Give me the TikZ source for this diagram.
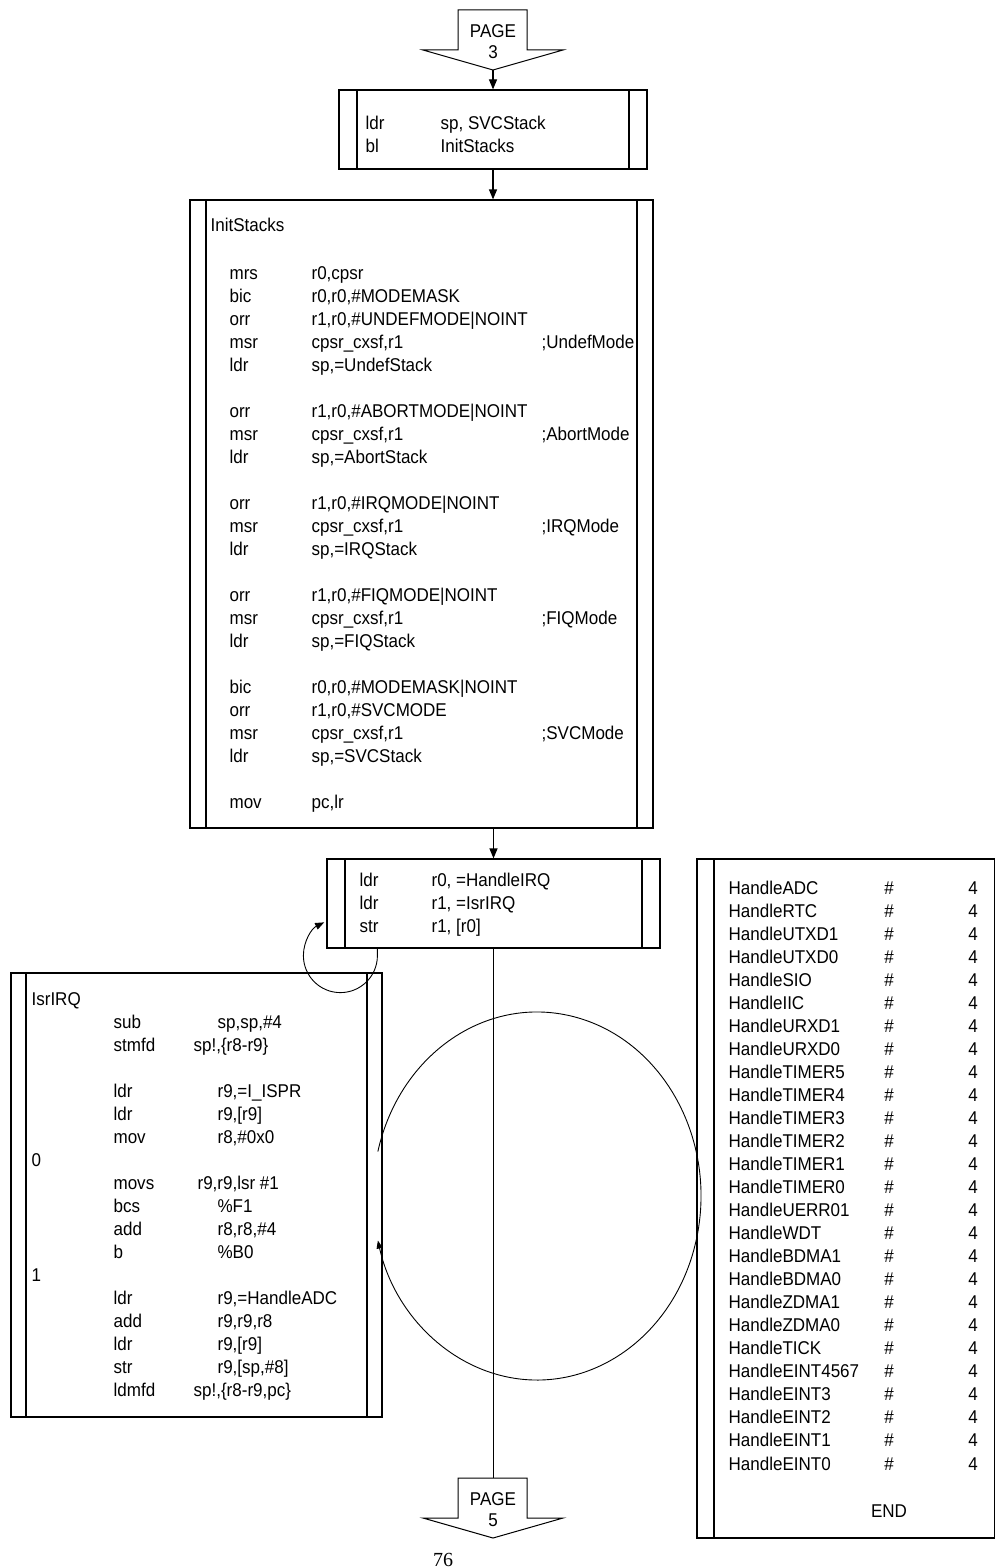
\documentclass[tikz,border=0pt]{standalone}
\usepackage{fontspec}
\setmainfont{Liberation Sans}[FakeStretch=0.92]
\newfontfamily\pagenofont{Liberation Serif}
\usetikzlibrary{arrows.meta,calc}

\newcommand{\codefont}{\fontsize{18.5}{21}\selectfont}

\tikzset{
  procbox/.style={draw, rectangle, line width=1.2pt, inner sep=0pt,
    path picture={
      \draw[line width=1.2pt] ([xshift=#1]path picture bounding box.north west) -- ([xshift=#1]path picture bounding box.south west);
      \draw[line width=1.2pt] ([xshift=-#1]path picture bounding box.north east) -- ([xshift=-#1]path picture bounding box.south east);
    }},
  procbox/.default=17pt,
  code/.style={anchor=base west, inner sep=0pt, font=\codefont},
  num/.style={anchor=base, inner sep=0pt, font=\codefont},
  pagetag/.style={align=center, inner sep=0pt, font=\codefont},
}

\begin{document}
\begin{tikzpicture}[x=1pt, y=1pt, >={Triangle[length=10pt,width=8pt]}, line width=1.2pt]
  \path[use as bounding box, fill=white] (0,0) rectangle (994,-1568);

  % off-page connector, top
  \node (page3) [pagetag] at (493,-42) {PAGE\\3};
  \draw[line width=1pt] (458,-10) -- (527,-10) -- (527,-50) -- (563,-50) -- (493,-70) -- (423,-50) -- (458,-50) -- cycle;
  \coordinate (p3tip) at (493,-70);

  % off-page connector, bottom
  \node (page5) [pagetag] at (493,-1510) {PAGE\\5};
  \draw[line width=1pt] (458,-1478) -- (527,-1478) -- (527,-1518) -- (563,-1518) -- (493,-1538) -- (423,-1518) -- (458,-1518) -- cycle;
  \coordinate (p5top) at (493,-1478);

  % boxes
  \node (setsp) [procbox=18pt, minimum width=308pt, minimum height=79pt] at (493,-129.5) {};
  \node (initstk) [procbox=16pt, minimum width=463pt, minimum height=628pt] at (421.5,-514) {};
  \node (irqvec) [procbox=18pt, minimum width=333pt, minimum height=89pt] at (493.5,-903.5) {};
  \node (isrirq) [procbox=15pt, minimum width=371pt, minimum height=444pt] at (196.5,-1195) {};
  \node (handlers) [procbox=17pt, minimum width=315pt, minimum height=679pt] at (854.5,-1198.5) {};

  % ldr sp / bl
  \foreach \r/\m/\o in {0/ldr/{sp, SVCStack}, 1/bl/InitStacks}
  {
    \node (set-m\r) [code] at (365,{-129-23*\r}) {\m};
    \node (set-o\r) [code] at (440,{-129-23*\r}) {\o};
  }

  % InitStacks
  \node (ini-title) [code] at (210,-231) {InitStacks};
  \foreach \r/\m/\o in {0/mrs/{r0,cpsr}, 1/bic/{r0,r0,\#MODEMASK}, 2/orr/{r1,r0,\#UNDEFMODE|NOINT},
      3/msr/{cpsr\_cxsf,r1}, 4/ldr/{sp,=UndefStack},
      6/orr/{r1,r0,\#ABORTMODE|NOINT}, 7/msr/{cpsr\_cxsf,r1}, 8/ldr/{sp,=AbortStack},
      10/orr/{r1,r0,\#IRQMODE|NOINT}, 11/msr/{cpsr\_cxsf,r1}, 12/ldr/{sp,=IRQStack},
      14/orr/{r1,r0,\#FIQMODE|NOINT}, 15/msr/{cpsr\_cxsf,r1}, 16/ldr/{sp,=FIQStack},
      18/bic/{r0,r0,\#MODEMASK|NOINT}, 19/orr/{r1,r0,\#SVCMODE}, 20/msr/{cpsr\_cxsf,r1}, 21/ldr/{sp,=SVCStack},
      23/mov/{pc,lr}}
  {
    \node (ini-m\r) [code] at (229,{-279-23*\r}) {\m};
    \node (ini-o\r) [code] at (311,{-279-23*\r}) {\o};
  }
  \foreach \r/\c in {3/UndefMode, 7/AbortMode, 11/IRQMode, 15/FIQMode, 20/SVCMode}
    \node (ini-c\r) [code] at (541,{-279-23*\r}) {;\c};

  % HandleIRQ vector
  \foreach \r/\m/\o in {0/ldr/{r0, =HandleIRQ}, 1/ldr/{r1, =IsrIRQ}, 2/str/{r1, [r0]}}
  {
    \node (irq-m\r) [code] at (359,{-886-23*\r}) {\m};
    \node (irq-o\r) [code] at (431,{-886-23*\r}) {\o};
  }

  % IsrIRQ
  \node (isr-title) [code] at (31,-1005) {IsrIRQ};
  \node (isr-l0) [code] at (31,-1166) {0};
  \node (isr-l1) [code] at (31,-1281) {1};
  \foreach \r/\m/\x/\o in {1/sub/217/{sp,sp,\#4}, 2/stmfd/193/{sp!,\{r8-r9\}},
      4/ldr/217/{r9,=I\_ISPR}, 5/ldr/217/{r9,[r9]}, 6/mov/217/{r8,\#0x0},
      8/movs/197/{r9,r9,lsr \#1}, 9/bcs/217/{\%F1}, 10/add/217/{r8,r8,\#4}, 11/b/217/{\%B0},
      13/ldr/217/{r9,=HandleADC}, 14/add/217/{r9,r9,r8}, 15/ldr/217/{r9,[r9]},
      16/str/217/{r9,[sp,\#8]}, 17/ldmfd/193/{sp!,\{r8-r9,pc\}}}
  {
    \node (isr-m\r) [code] at (113,{-1005-23*\r}) {\m};
    \node (isr-o\r) [code] at (\x,{-1005-23*\r}) {\o};
  }

  % handler table
  \foreach \n [count=\i from 0] in {ADC,RTC,UTXD1,UTXD0,SIO,IIC,URXD1,URXD0,TIMER5,TIMER4,TIMER3,TIMER2,TIMER1,
      TIMER0,UERR01,WDT,BDMA1,BDMA0,ZDMA1,ZDMA0,TICK,EINT4567,EINT3,EINT2,EINT1,EINT0}
  {
    \node (hnd-\i) [code] at (728,{-894-23.04*\i}) {Handle\n};
    \node (hsh-\i) [num] at (889,{-894-23.04*\i}) {\#};
    \node (hsz-\i) [num] at (973,{-894-23.04*\i}) {4};
  }
  \node (hend) [num] at (889,-1517) {END};

  % flow
  \draw[->] (p3tip) -- (setsp.north);
  \draw[->] (setsp.south) -- (setsp.south |- initstk.north);
  \draw[->] (initstk.south -| irqvec.north) -- (irqvec.north);
  \draw (irqvec.south) -- (irqvec.south |- p5top);

  % loops
  \draw[line width=0.9pt, -{Triangle[length=9pt,width=7pt]}] ([xshift=51pt]irqvec.south west) -- ++(0,-7)
    arc[start angle=0, end angle=-244, radius=37];
  \coordinate (ringc) at (537,-1196);
  \draw[line width=0.9pt, -{Triangle[length=8pt,width=6pt]}] (ringc) ++(166:164 and 184)
    arc[start angle=166, end angle=-166, x radius=164, y radius=184];

  \node (pageno) [font=\pagenofont\fontsize{20}{20}\selectfont, anchor=base, inner sep=0pt] at (443,-1566) {76};
\end{tikzpicture}
\end{document}
